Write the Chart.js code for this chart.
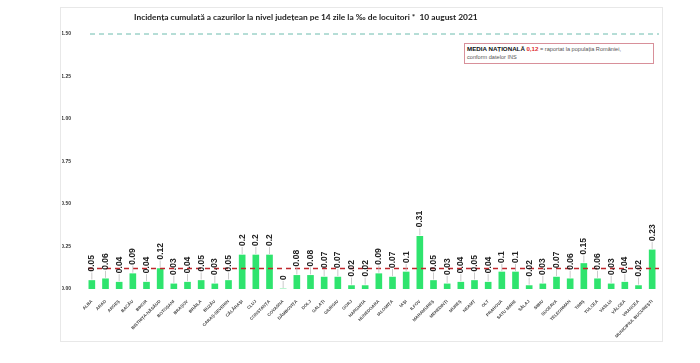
<!DOCTYPE html>
<html>
<head>
<meta charset="utf-8">
<script src="https://cdn.jsdelivr.net/npm/chart.js@4"></script>
<style>
  body { margin: 0; background: #fff; font-family: "Liberation Sans", Arial, sans-serif; }
  #frame { position: absolute; left: 60px; top: 7px; width: 601px; height: 333px; border: 1px solid #e8e8e8; }
  #wrap { position: absolute; left: 0; top: 0; width: 700px; height: 363px; }
  #title { position: absolute; left: 134px; top: 12px; font-family: Lato, sans-serif; font-weight: bold; font-size: 8.4px; color: #222; white-space: nowrap; }
  #note { position: absolute; left: 464px; top: 43px; width: 184px; height: 17px; border: 1px solid #d8909a; background: #fff; padding: 1px 2px; font-size: 5.6px; line-height: 8px; color: #555; }
  #note b { color: #111; font-size: 6.2px; }
  #note .red { color: #e03030; font-weight: bold; font-size: 6.2px; }
</style>
</head>
<body>
<div id="frame"></div>
<div id="wrap"><canvas id="chart"></canvas></div>
<div id="title">Incidența cumulată a cazurilor la nivel județean pe 14 zile la ‰ de locuitori *&nbsp;&nbsp;10 august 2021</div>
<div id="note"><b>MEDIA NAȚIONALĂ</b> <span class="red">0,12</span> = raportat la populația României,<br>conform datelor INS</div>
<script>
// Judete, in ordinea din grafic
const counties = [
  "ALBA", "ARAD", "ARGEȘ", "BACĂU", "BIHOR", "BISTRIȚA-NĂSĂUD", "BOTOȘANI",
  "BRAȘOV", "BRĂILA", "BUZĂU", "CARAȘ-SEVERIN", "CĂLĂRAȘI", "CLUJ",
  "CONSTANȚA", "COVASNA", "DÂMBOVIȚA", "DOLJ", "GALAȚI", "GIURGIU", "GORJ",
  "HARGHITA", "HUNEDOARA", "IALOMIȚA", "IAȘI", "ILFOV", "MARAMUREȘ",
  "MEHEDINȚI", "MUREȘ", "NEAMȚ", "OLT", "PRAHOVA", "SATU MARE", "SĂLAJ",
  "SIBIU", "SUCEAVA", "TELEORMAN", "TIMIȘ", "TULCEA", "VASLUI", "VÂLCEA",
  "VRANCEA", "MUNICIPIUL BUCUREȘTI"
];

// Incidenta la 14 zile (‰)
const incidence = [
  0.05, 0.06, 0.04, 0.09, 0.04, 0.12, 0.03, 0.04, 0.05, 0.03,
  0.05, 0.2, 0.2, 0.2, 0, 0.08, 0.08, 0.07, 0.07, 0.02,
  0.02, 0.09, 0.07, 0.1, 0.31, 0.05, 0.03, 0.04, 0.05, 0.04,
  0.1, 0.1, 0.02, 0.03, 0.07, 0.06, 0.15, 0.06, 0.03, 0.04,
  0.02, 0.23
];

const yTicks = [0, 0.25, 0.5, 0.75, 1, 1.25, 1.5];
const nationalAverage = 0.12;
const threshold = 1.5;

// Linii orizontale (media nationala + prag) si etichete pe bare
const overlayPlugin = {
  id: "overlay",
  afterDatasetsDraw(chart) {
    const ctx = chart.ctx;
    const area = chart.chartArea;
    const y = chart.scales.y;

    ctx.save();
    // prag 1.50
    ctx.strokeStyle = "#6cbcae";
    ctx.lineWidth = 1;
    ctx.setLineDash([5, 4]);
    ctx.beginPath();
    ctx.moveTo(area.left + 5, y.getPixelForValue(threshold));
    ctx.lineTo(area.right, y.getPixelForValue(threshold));
    ctx.stroke();

    // media nationala
    ctx.strokeStyle = "#c0262c";
    ctx.lineWidth = 1.5;
    ctx.setLineDash([5, 4]);
    ctx.beginPath();
    ctx.moveTo(area.left + 3, y.getPixelForValue(nationalAverage));
    ctx.lineTo(area.right, y.getPixelForValue(nationalAverage));
    ctx.stroke();
    ctx.setLineDash([]);

    // etichete
    const meta = chart.getDatasetMeta(0);
    const gap = 9;
    meta.data.forEach((bar, i) => {
      const top = bar.y;
      ctx.strokeStyle = "#bdbdbd";
      ctx.lineWidth = 0.8;
      ctx.beginPath();
      ctx.moveTo(bar.x, top - 1);
      ctx.lineTo(bar.x, top - gap + 1);
      ctx.stroke();

      ctx.save();
      ctx.translate(bar.x, top - gap);
      ctx.rotate(-Math.PI / 2);
      ctx.fillStyle = "#222";
      ctx.font = "bold 8.5px 'Liberation Sans', Arial, sans-serif";
      ctx.textAlign = "left";
      ctx.textBaseline = "middle";
      ctx.fillText(String(incidence[i]), 0, 0);
      ctx.restore();
    });
    ctx.restore();
  }
};

const ctx = document.getElementById("chart").getContext("2d");
const chart = new Chart(ctx, {
  type: "bar",
  data: {
    labels: counties,
    datasets: [
      {
        data: incidence,
        backgroundColor: "#2fe46e",
        barThickness: 6,
        borderWidth: 0,
      },
    ],
  },
  options: {
    responsive: true,
    maintainAspectRatio: false,
    animation: false,
    layout: {
      padding: { left: 62, right: 41, top: 34, bottom: 20 },
    },
    plugins: {
      legend: { display: false },
      tooltip: { enabled: false },
    },
    scales: {
      x: {
        grid: { display: false },
        border: { display: false },
        ticks: {
          autoSkip: false,
          minRotation: 45,
          maxRotation: 45,
          padding: 2,
          color: "#444",
          font: { size: 4.3, family: "'Liberation Sans', Arial, sans-serif", weight: "bold" },
        },
        afterFit(scale) {
          scale.height = 54;
        },
      },
      y: {
        min: 0,
        max: 1.5,
        grid: { display: false },
        border: { display: false },
        afterBuildTicks(scale) {
          scale.ticks = yTicks.map((v) => ({ value: v }));
        },
        ticks: {
          padding: 6,
          color: "#333",
          font: { size: 5, family: "'Liberation Sans', Arial, sans-serif", weight: "bold" },
          callback: (v) => Number(v).toFixed(2),
        },
        afterFit(scale) {
          scale.width = 23;
        },
      },
    },
  },
  plugins: [overlayPlugin],
});
</script>
</body>
</html>
